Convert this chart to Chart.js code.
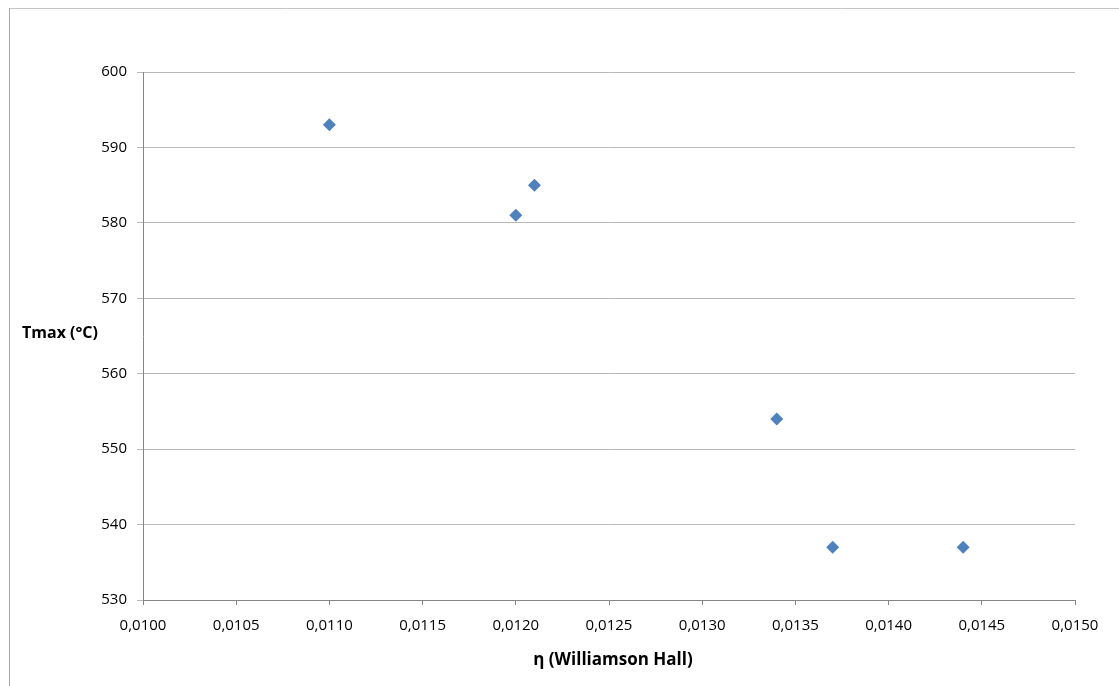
<!DOCTYPE html>
<html>
<head>
<meta charset="utf-8">
<script src="https://cdn.jsdelivr.net/npm/chart.js@4/dist/chart.umd.min.js"></script>
<style>
  html, body { margin: 0; padding: 0; background: #ffffff; }
  #wrap { width: 1119px; height: 686px; position: relative; }
</style>
</head>
<body>
<div id="wrap"><canvas id="c" width="1119" height="686"></canvas></div>
<script>
// ---- data ----
const etaValues = [0.0110, 0.0120, 0.0121, 0.0134, 0.0137, 0.0144];
const tmaxValues = [593, 581, 585, 554, 537, 537];
const xTitle = "η (Williamson Hall)";
const yTitle = "Tmax (°C)";
const xMin = 0.0100, xMax = 0.0150, xStep = 0.0005;
const yMin = 530, yMax = 600, yStep = 10;

const points = etaValues.map((x, i) => ({ x: x, y: tmaxValues[i] }));

const FONT = "'Open Sans', 'Liberation Sans', sans-serif";

const frameAndTitles = {
  id: 'frameAndTitles',
  beforeDraw(chart) {
    const ctx = chart.ctx;
    ctx.save();
    ctx.fillStyle = '#ffffff';
    ctx.fillRect(0, 0, chart.width, chart.height);
    ctx.lineWidth = 1;
    ctx.strokeStyle = '#c4c4c4';
    ctx.beginPath();
    ctx.moveTo(9, 8.5); ctx.lineTo(chart.width, 8.5);
    ctx.stroke();
    ctx.strokeStyle = '#a8a8a8';
    ctx.beginPath();
    ctx.moveTo(9.5, 8); ctx.lineTo(9.5, chart.height);
    ctx.stroke();
    ctx.restore();
  },
  afterDraw(chart) {
    const ctx = chart.ctx;
    const a = chart.chartArea;
    ctx.save();
    ctx.fillStyle = '#000000';
    ctx.font = "bold 16px " + FONT;
    ctx.textBaseline = 'middle';
    ctx.textAlign = 'left';
    ctx.fillText(yTitle, 22, (a.top + a.bottom) / 2 - 3);
    ctx.font = "bold 17px " + FONT;
    ctx.textAlign = 'center';
    ctx.fillText(xTitle, 613, 660);
    ctx.restore();
  }
};

new Chart(document.getElementById('c'), {
  type: 'scatter',
  data: {
    datasets: [{
      data: points,
      pointStyle: 'rectRot',
      pointRadius: 6.5,
      pointHoverRadius: 6.5,
      backgroundColor: '#4f81bd',
      borderColor: '#4f81bd',
      borderWidth: 0
    }]
  },
  options: {
    responsive: false,
    animation: false,
    events: [],
    layout: { padding: { top: 72, right: 44, left: 0, bottom: 0 } },
    plugins: { legend: { display: false }, tooltip: { enabled: false } },
    scales: {
      x: {
        type: 'linear',
        min: xMin, max: xMax,
        afterFit(scale) { scale.height = 86; },
        ticks: {
          stepSize: xStep,
          color: '#000000',
          font: { family: FONT, size: 15 },
          padding: 12,
          maxRotation: 0,
          autoSkip: false,
          callback: (v) => Number(v).toFixed(4).replace('.', ',')
        },
        grid: { drawOnChartArea: false, drawTicks: true, tickLength: 5, color: '#868686' },
        border: { display: true, color: '#868686', width: 1 }
      },
      y: {
        type: 'linear',
        min: yMin, max: yMax,
        afterFit(scale) { scale.width = 143; },
        ticks: {
          stepSize: yStep,
          color: '#000000',
          font: { family: FONT, size: 15 },
          padding: 10
        },
        grid: { color: '#b8b8b8', tickLength: 6, drawTicks: true },
        border: { display: true, color: '#868686', width: 1 }
      }
    }
  },
  plugins: [frameAndTitles]
});
</script>
</body>
</html>
